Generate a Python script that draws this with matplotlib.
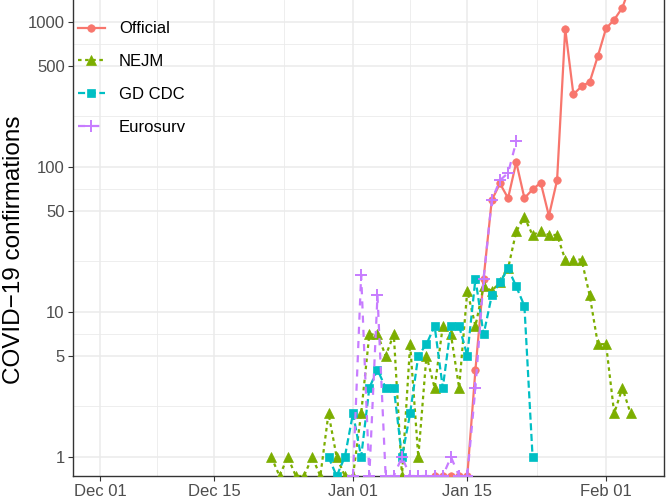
import numpy as np
import pandas as pd
import matplotlib
matplotlib.use('Agg')
import matplotlib.pyplot as plt
import matplotlib.dates as mdates
from matplotlib.ticker import FixedLocator, NullFormatter

plt.rcParams['font.family'] = ['Liberation Sans', 'DejaVu Sans']

# ======================================================
# Data: daily confirmations, one value per day from start date
# ======================================================
official_start = '2020-01-11'
official = [0, 0, 0, 0, 0, 4, 17, 59, 77, 61, 108, 61, 70, 78, 46, 81,
            900, 317, 360, 386, 583, 904, 1038, 1256, 1800]

nejm_start = '2019-12-22'
nejm = [1, 0, 1, 0, 0, 1, 0, 2, 1, 0,
        0, 2, 7, 7, 5, 7, 0, 6, 1, 5, 3, 8, 7, 3, 14, 8, 15, 14, 16, 20,
        36, 45, 34, 36, 34, 34, 23, 23, 23, 13, 6,
        6, 2, 3, 2]

gdcdc_start = '2019-12-29'
gdcdc = [1, 0, 1, 2, 1, 3, 4, 3, 3, 1, 2, 5, 6, 8, 3, 8, 8, 5, 17, 7,
         13, 16, 20, 15, 11, 1]

eurosurv_start = '2020-01-01'
eurosurv = [0, 18, 0, 13, 0, 0, 1, 0, 0, 0, 0, 0, 1, 0, 0, 3, 17, 59,
            81, 91, 150]

series_names = ['Official', 'NEJM', 'GD CDC', 'Eurosurv']
series_starts = [official_start, nejm_start, gdcdc_start, eurosurv_start]
series_values = [official, nejm, gdcdc, eurosurv]

y_breaks = [1, 5, 10, 50, 100, 500, 1000]
x_breaks = ['2019-12-01', '2019-12-15', '2020-01-01', '2020-01-15', '2020-02-01']

# ======================================================
# Styling (ggplot default hues)
# ======================================================
colors = ['#F8766D', '#7CAE00', '#00BFC4', '#C77CFF']
markers = ['o', '^', 's', '+']
msizes = [5.4, 6.8, 5.2, 9]
dashes = [None, (1.6, 1.6), (3.2, 1.6), (3.2, 3.2)]

y_low = 10 ** (-0.131)
y_high = 10 ** 3.152

fig = plt.figure(figsize=(6.66, 5.0), dpi=100)
ax = fig.add_axes([73 / 666, 24 / 500, 591 / 666, 476 / 500])
ax.set_yscale('log')

for name, start, vals, col, mk, ms, ds in zip(series_names, series_starts, series_values,
                                               colors, markers, msizes, dashes):
    dates = pd.date_range(start, periods=len(vals), freq='D')
    v = np.array(vals, dtype=float)
    v = np.where(v <= 0, y_low, v)   # zeros sit on the panel floor (-Inf in log)
    line, = ax.plot(dates, v, color=col, linewidth=1.6, marker=mk, markersize=ms,
                    markeredgewidth=1.4 if mk == '+' else 0.5,
                    markeredgecolor=col, label=name, zorder=3)
    if ds is not None:
        line.set_dashes(ds)

# ======================================================
# Axes
# ======================================================
x0 = pd.Timestamp('2019-12-01')
ax.set_xlim(x0 - pd.Timedelta(days=3.3), x0 + pd.Timedelta(days=69.1))
ax.set_ylim(y_low, y_high)

ax.xaxis.set_major_locator(FixedLocator(mdates.date2num(pd.to_datetime(x_breaks))))
ax.xaxis.set_major_formatter(mdates.DateFormatter('%b %d'))
xb = mdates.date2num(pd.to_datetime(x_breaks))
ax.xaxis.set_minor_locator(FixedLocator((xb[:-1] + xb[1:]) / 2))
ax.xaxis.set_minor_formatter(NullFormatter())

ax.yaxis.set_major_locator(FixedLocator(y_breaks))
ax.set_yticklabels([str(b) for b in y_breaks])
yb = np.array(y_breaks, dtype=float)
ax.yaxis.set_minor_locator(FixedLocator(np.sqrt(yb[:-1] * yb[1:])))
ax.yaxis.set_minor_formatter(NullFormatter())

ax.grid(True, which='major', color='#EBEBEB', linewidth=1.1, zorder=0)
ax.grid(True, which='minor', color='#EBEBEB', linewidth=0.6, zorder=0)
ax.set_axisbelow(True)

ax.tick_params(which='major', length=3.5, width=0.8, color='#333333',
               labelsize=12, labelcolor='#4D4D4D', pad=2.5)
ax.tick_params(which='minor', length=0)

for side in ['left', 'bottom', 'right']:
    ax.spines[side].set_color('#333333')
    ax.spines[side].set_linewidth(1.0)
ax.spines['top'].set_visible(False)

ax.set_ylabel('COVID\u221219 confirmations', fontsize=17.5, color='black')
ax.yaxis.set_label_coords(-0.081, 0.475)

leg = ax.legend(loc='upper left', bbox_to_anchor=(0.0085, 0.955), frameon=False,
                fontsize=12, handlelength=1.6, handletextpad=0.85,
                labelspacing=1.07, borderpad=0, borderaxespad=0)

fig.savefig('out.png', dpi=100)
